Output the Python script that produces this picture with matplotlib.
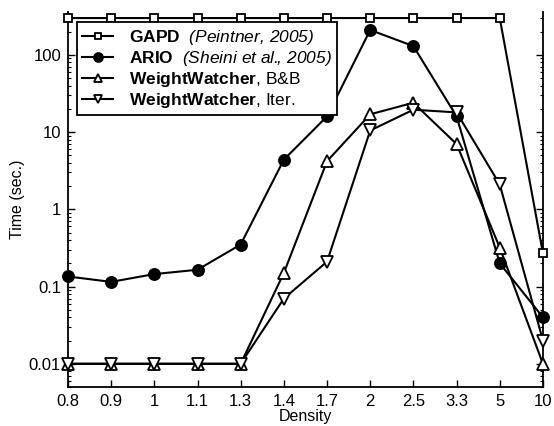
import matplotlib
matplotlib.use("Agg")
import matplotlib.pyplot as plt

plt.rcParams["font.family"] = ["Liberation Sans", "DejaVu Sans"]
# italic parts of the legend are set through \mathrm, bold parts through \bf
plt.rcParams["mathtext.fontset"] = "custom"
plt.rcParams["mathtext.rm"] = "Liberation Sans:italic"
plt.rcParams["mathtext.it"] = "Liberation Sans:italic"
plt.rcParams["mathtext.bf"] = "Liberation Sans:bold"

densities = ["0.8", "0.9", "1", "1.1", "1.3", "1.4", "1.7", "2", "2.5", "3.3", "5", "10"]
gapd = [300, 300, 300, 300, 300, 300, 300, 300, 300, 300, 300, 0.27]
ario = [0.135, 0.115, 0.145, 0.165, 0.35, 4.4, 16, 210, 130, 16, 0.2, 0.04]
ww_bb = [0.01, 0.01, 0.01, 0.01, 0.01, 0.15, 4.2, 17, 24, 7, 0.32, 0.01]
ww_iter = [0.01, 0.01, 0.01, 0.01, 0.01, 0.07, 0.21, 10.5, 19.5, 18, 2.1, 0.02]

labels = [
    r"$\bf{GAPD}$  $\mathrm{(Peintner{,}\ 2005)}$",
    r"$\bf{ARIO}$  $\mathrm{(Sheini\ et\ al.\!\!{,}\ 2005)}$",
    r"$\bf{WeightWatcher}$, B&B",
    r"$\bf{WeightWatcher}$, Iter.",
]

fig = plt.figure(figsize=(5.54, 4.26), dpi=100)
ax = fig.add_axes([0.1227, 0.0915, 0.8573, 0.8805])

x = list(range(len(densities)))
common = dict(color="black", lw=1.5, markeredgewidth=1.3, clip_on=False, zorder=3)
ax.plot(x, gapd, marker="s", mfc="white", markersize=5.5, label=labels[0], **common)
ax.plot(x, ario, marker="o", mfc="black", markersize=8, label=labels[1], **common)
ax.plot(x, ww_bb, marker="^", mfc="white", markersize=8, label=labels[2], **common)
ax.plot(x, ww_iter, marker="v", mfc="white", markersize=8, label=labels[3], **common)

ax.set_yscale("log")
ax.set_ylim(0.005, 360)
ax.set_xlim(0, len(densities) - 1)
ax.set_xticks(x)
ax.set_xticklabels(densities)
ax.set_yticks([0.01, 0.1, 1, 10, 100])
ax.set_yticklabels(["0.01", "0.1", "1", "10", "100"])
ax.tick_params(axis="both", which="both", direction="in", right=True, labelsize=12, pad=5)
ax.tick_params(axis="both", which="major", length=5, width=1)
ax.tick_params(axis="y", which="minor", length=2.5, width=0.8)
ax.spines["top"].set_visible(False)
for s in ["left", "right", "bottom"]:
    ax.spines[s].set_linewidth(1.3)

ax.set_xlabel("Density", fontsize=11.5, labelpad=0)
ax.set_ylabel("Time (sec.)", fontsize=11.5, labelpad=3)

leg = ax.legend(loc="upper left", bbox_to_anchor=(0.019, 0.972), fontsize=12.5,
                frameon=True, fancybox=False, edgecolor="black", framealpha=1,
                handlelength=1.8, handletextpad=0.9, borderpad=0.3, labelspacing=0.12,
                borderaxespad=0, markerscale=0.8)
leg.get_frame().set_linewidth(1.3)

fig.savefig("out.png", dpi=100)
